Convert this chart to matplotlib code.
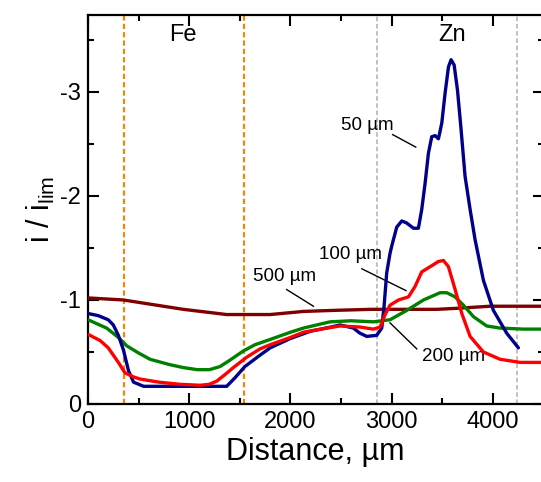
import matplotlib
matplotlib.use("Agg")
import matplotlib.pyplot as plt
from matplotlib.ticker import MultipleLocator

plt.rcParams['font.family'] = ['Liberation Sans', 'DejaVu Sans']
plt.rcParams['mathtext.fontset'] = 'custom'
plt.rcParams['mathtext.rm'] = 'Liberation Sans'
plt.rcParams['mathtext.it'] = 'Liberation Sans'

# 50 um
x50 = [0, 100, 200, 250, 300, 350, 400, 450, 550, 800, 1100, 1370, 1450, 1550, 1700, 1800, 2000, 2200,
       2400, 2490, 2622, 2688, 2754, 2852, 2902, 2925, 2951, 2984, 3001, 3050, 3100, 3149, 3215, 3264,
       3297, 3330, 3363, 3396, 3429, 3462, 3495, 3528, 3561, 3587, 3617, 3650, 3683, 3725, 3775, 3824,
       3906, 4005, 4137, 4252]
y50 = [-0.87, -0.85, -0.81, -0.76, -0.66, -0.52, -0.32, -0.21, -0.17, -0.17, -0.17, -0.17, -0.25, -0.36,
       -0.47, -0.54, -0.63, -0.70, -0.74, -0.76, -0.73, -0.68, -0.65, -0.66, -0.73, -0.94, -1.26, -1.45,
       -1.52, -1.70, -1.76, -1.74, -1.69, -1.69, -1.87, -2.12, -2.41, -2.57, -2.58, -2.55, -2.70, -2.99,
       -3.24, -3.31, -3.26, -3.02, -2.67, -2.19, -1.87, -1.58, -1.19, -0.90, -0.68, -0.54]

# 100 um
x100 = [0, 120, 200, 250, 300, 365, 450, 514, 700, 900, 1107, 1200, 1272, 1350, 1436, 1568, 1700, 1800,
        2000, 2128, 2300, 2490, 2688, 2819, 2885, 2935, 2984, 3067, 3166, 3231, 3297, 3380, 3462, 3511,
        3561, 3627, 3693, 3775, 3906, 4071, 4269, 4500]
y100 = [-0.67, -0.61, -0.54, -0.47, -0.40, -0.30, -0.26, -0.24, -0.21, -0.19, -0.18, -0.19, -0.22, -0.28,
        -0.35, -0.45, -0.53, -0.57, -0.64, -0.69, -0.72, -0.75, -0.74, -0.72, -0.74, -0.86, -0.95, -1.00,
        -1.03, -1.13, -1.27, -1.32, -1.37, -1.38, -1.32, -1.10, -0.87, -0.65, -0.50, -0.43, -0.40, -0.40]

# 200 um
x200 = [0, 184, 300, 382, 500, 613, 800, 942, 1080, 1200, 1304, 1400, 1535, 1650, 1798, 2000, 2128, 2391,
        2600, 2819, 2984, 3149, 3314, 3478, 3544, 3627, 3709, 3808, 3939, 4071, 4300, 4500]
y200 = [-0.81, -0.73, -0.64, -0.56, -0.49, -0.43, -0.38, -0.35, -0.33, -0.33, -0.36, -0.42, -0.51, -0.57,
        -0.62, -0.69, -0.73, -0.79, -0.80, -0.79, -0.81, -0.90, -1.00, -1.07, -1.07, -1.03, -0.95, -0.84,
        -0.75, -0.73, -0.72, -0.72]

# 500 um
x500 = [0, 350, 613, 942, 1200, 1370, 1600, 1798, 2128, 2425, 2787, 3445, 3643, 3808, 3972, 4500]
y500 = [-1.02, -1.00, -0.96, -0.91, -0.88, -0.86, -0.86, -0.86, -0.89, -0.90, -0.91, -0.91, -0.92, -0.93, -0.94, -0.94]

fe_bounds = [360, 1545]
zn_bounds = [2860, 4235]

fig = plt.figure(figsize=(5.41, 4.82), dpi=100)
ax = fig.add_axes([88/541, 1-404/482, (543.5-88)/541, (404-15)/482])

for xb in fe_bounds:
    ax.axvline(xb, color='#FF8000', ls=(0, (2.5, 1.5)), lw=1.5, zorder=1)
for xb in zn_bounds:
    ax.axvline(xb, color='#BBBBBB', ls=(0, (2.5, 1.5)), lw=1.3, zorder=1)

lw = 2.4
kw = dict(lw=lw, solid_joinstyle='round', solid_capstyle='round')
ax.plot(x500, y500, color='#800000', zorder=3, **kw)
ax.plot(x200, y200, color='#008000', zorder=3, **kw)
ax.plot(x50, y50, color='#00008B', zorder=4, **kw)
ax.plot(x100, y100, color='#FF0000', zorder=5, **kw)

ax.set_xlim(0, 4500)
ax.set_ylim(0, -3.74)

ax.xaxis.set_minor_locator(MultipleLocator(500))
ax.yaxis.set_minor_locator(MultipleLocator(0.5))
ax.set_xticks([0, 1000, 2000, 3000, 4000])
ax.set_yticks([0, -1, -2, -3])
ax.set_yticklabels(['0', '-1', '-2', '-3'])

ax.tick_params(which='both', direction='in', top=True, right=True, width=1.5, labelsize=17)
ax.tick_params(which='major', length=8, pad=5)
ax.tick_params(which='minor', length=4)
for s in ax.spines.values():
    s.set_linewidth(1.6)

ax.set_xlabel('Distance, \u00b5m', fontsize=22, labelpad=3)
ax.set_ylabel(r'$\mathregular{i\ /\ i_{lim}}$', fontsize=22, labelpad=2)

ax.text(940, -3.55, 'Fe', fontsize=17, ha='center', va='center')
ax.text(3600, -3.55, 'Zn', fontsize=17, ha='center', va='center')

fs = 13.5
ax.text(2760, -2.68, '50 \u00b5m', fontsize=fs, ha='center', va='center')
ax.plot([3010, 3238], [-2.59, -2.47], color='black', lw=1)
ax.text(2590, -1.44, '100 \u00b5m', fontsize=fs, ha='center', va='center')
ax.plot([2705, 3142], [-1.30, -1.09], color='black', lw=1)
ax.text(1946, -1.23, '500 \u00b5m', fontsize=fs, ha='center', va='center')
ax.plot([1963, 2227], [-1.10, -0.94], color='black', lw=1)
ax.text(3610, -0.46, '200 \u00b5m', fontsize=fs, ha='center', va='center')
ax.plot([3248, 2984], [-0.53, -0.78], color='black', lw=1)

fig.savefig('out.png', dpi=100)
